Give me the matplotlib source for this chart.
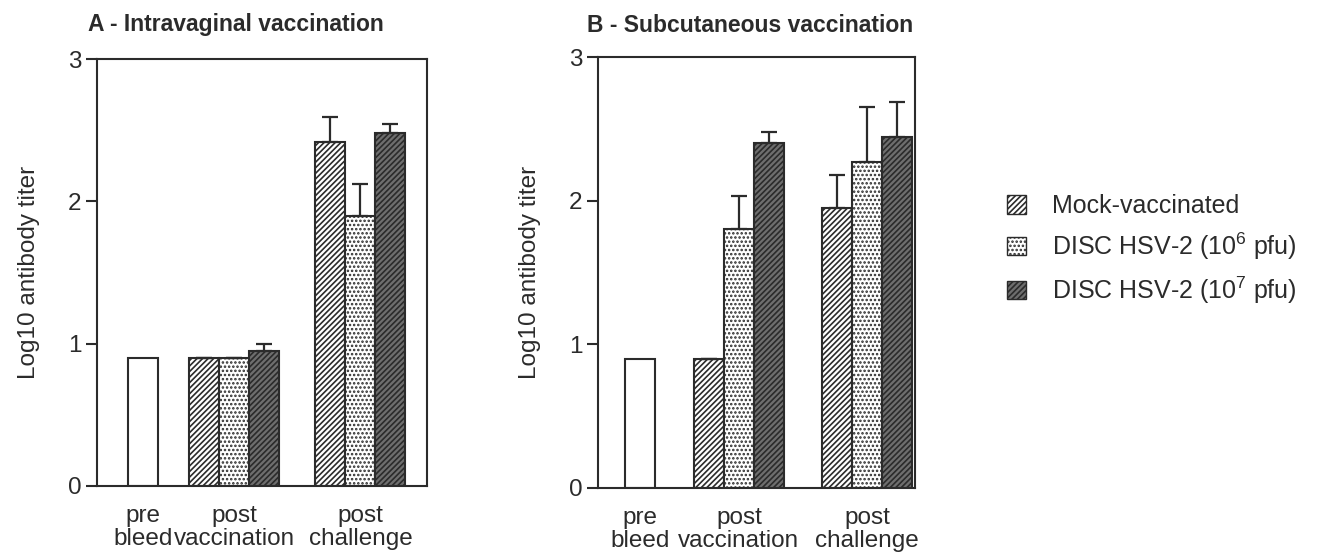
import matplotlib
matplotlib.use("Agg")
from matplotlib import pyplot as plt
from matplotlib.patches import Patch

plt.rcParams["font.family"] = ["Liberation Sans", "DejaVu Sans"]
plt.rcParams["mathtext.fontset"] = "custom"
plt.rcParams["mathtext.rm"] = "Liberation Sans"
plt.rcParams["hatch.linewidth"] = 1.2

groups = ["pre\nbleed", "post\nvaccination", "post\nchallenge"]
series = ["Mock-vaccinated", "DISC HSV-2 (10$^6$ pfu)", "DISC HSV-2 (10$^7$ pfu)"]

# panel A - intravaginal
a_pre = 0.9
a_mock = [0.90, 2.42]
a_e6 = [0.90, 1.90]
a_e7 = [0.95, 2.48]
a_mock_err = [0.0, 0.17]
a_e6_err = [0.0, 0.22]
a_e7_err = [0.05, 0.06]

# panel B - subcutaneous
b_pre = 0.9
b_mock = [0.90, 1.95]
b_e6 = [1.80, 2.27]
b_e7 = [2.40, 2.44]
b_mock_err = [0.0, 0.23]
b_e6_err = [0.23, 0.38]
b_e7_err = [0.08, 0.25]

ink = "#2b2b2b"
styles = [
    dict(facecolor="white", hatch="//////"),
    dict(facecolor="white", hatch="...."),
    dict(facecolor="#6e6e6e", hatch="//////"),
]


def panel(ax, pre, vals, errs, centers, xmax):
    ax.bar(centers[0], pre, width=1.0, color="white", edgecolor=ink, linewidth=1.5)
    for k in range(3):
        xs = [centers[1] + (k - 1), centers[2] + (k - 1)]
        ax.bar(xs, vals[k], width=1.0, edgecolor=ink, linewidth=1.5, **styles[k])
        ax.errorbar(xs, vals[k], yerr=[[0, 0], errs[k]], fmt="none",
                    ecolor=ink, elinewidth=1.6, capsize=6, capthick=1.6)
    ax.set_xlim(0, xmax)
    ax.set_ylim(0, 3)
    ax.set_yticks([0, 1, 2, 3])
    ax.set_xticks(centers)
    ax.set_xticklabels(groups, fontsize=17.5, linespacing=1.05, color=ink)
    ax.tick_params(axis="x", length=0, pad=14)
    ax.tick_params(axis="y", direction="out", length=8, width=1.5, labelsize=17.5, pad=3, colors=ink)
    for s in ax.spines.values():
        s.set_linewidth(1.5)
        s.set_color(ink)
    ax.set_ylabel("Log10 antibody titer", fontsize=17.5, color=ink, labelpad=20)


fig = plt.figure(figsize=(13.27, 5.59), dpi=100)
axA = fig.add_axes([97 / 1327, 1 - 486 / 559, 330 / 1327, 427 / 559])
axB = fig.add_axes([598 / 1327, 1 - 488 / 559, 317 / 1327, 431 / 559])

panel(axA, a_pre, [a_mock, a_e6, a_e7], [a_mock_err, a_e6_err, a_e7_err],
      [1.53, 4.57, 8.78], 11.0)
panel(axB, b_pre, [b_mock, b_e6, b_e7], [b_mock_err, b_e6_err, b_e7_err],
      [1.4, 4.7, 8.97], 10.57)

fig.text(88 / 1327, 1 - 25 / 559, "A - Intravaginal vaccination", fontsize=16.5,
         fontweight="bold", color=ink, va="center")
fig.text(587 / 1327, 1 - 26 / 559, "B - Subcutaneous vaccination", fontsize=16.5,
         fontweight="bold", color=ink, va="center")

handles = [Patch(edgecolor=ink, linewidth=1.0, label=series[k], **styles[k]) for k in range(3)]
fig.legend(handles=handles, loc="center left", bbox_to_anchor=(985 / 1327, 1 - 250 / 559),
           frameon=False, fontsize=18, handlelength=0.75, handleheight=0.75,
           handletextpad=1.05, labelspacing=0.5, labelcolor=ink)

fig.savefig("out.png", dpi=100)
